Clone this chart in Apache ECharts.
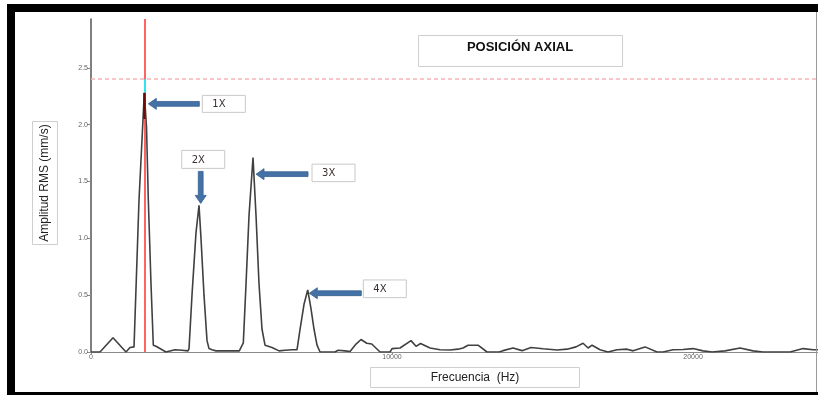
<!DOCTYPE html>
<html>
<head>
<meta charset="utf-8">
<script src="https://cdn.jsdelivr.net/npm/echarts@6/dist/echarts.min.js"></script>
<style>
  html, body { margin: 0; padding: 0; background: #fff; }
  #chart { width: 818px; height: 395px; }
</style>
</head>
<body>
<div id="chart"></div>
<script>
// Vibration spectrum, axial position: frequency (Hz) vs RMS amplitude (mm/s)
const freqHz = [
  0, 299, 731, 1163, 1296, 1429, 1478, 1595, 1678, 1771, 1844, 1904, 1993, 2070,
  2159, 2492, 2791, 3023, 3223, 3256, 3355, 3488, 3588, 3654, 3754, 3854, 3920,
  4020, 4153, 4452, 4784, 4927, 5060, 5150, 5249, 5382, 5482, 5581, 5681, 5781,
  6013, 6246, 6445, 6678, 6844, 6944, 7076, 7199, 7309, 7409, 7508, 7608, 8106,
  8206, 8439, 8605, 8804, 8970, 9160, 9326, 9601, 9934, 10000, 10266, 10631,
  10797, 10947, 11262, 11595, 11927, 12193, 12359, 12525, 12857, 13156, 13555,
  13688, 14020, 14319, 14618, 15017, 15482, 15814, 16113, 16346, 16512, 16645,
  16910, 17176, 17475, 17807, 18007, 18405, 18804, 19003, 19336, 19668, 20000,
  20332, 20631, 21063, 21561, 21993, 22326, 23223, 23654, 23987, 24150
];
const ampRms = [
  0.0, 0.0, 0.126, 0.0, 0.04, 0.045, 0.05, 1.34, 1.78, 2.28, 1.98, 1.34, 0.6, 0.06,
  0.05, 0.0, 0.02, 0.015, 0.01, 0.03, 0.5, 1.05, 1.29, 1.0, 0.5, 0.1, 0.03,
  0.02, 0.01, 0.01, 0.01, 0.01, 0.08, 0.6, 1.2, 1.71, 1.2, 0.6, 0.2, 0.06,
  0.04, 0.01, 0.015, 0.02, 0.02, 0.2, 0.42, 0.546, 0.38, 0.2, 0.06, 0.0, 0.0,
  0.015, 0.01, 0.005, 0.07, 0.11, 0.077, 0.07, 0.0, 0.0, 0.03, 0.035, 0.1,
  0.05, 0.075, 0.035, 0.02, 0.018, 0.025, 0.035, 0.06, 0.06, 0.0, 0.0,
  0.012, 0.035, 0.012, 0.04, 0.028, 0.018, 0.025, 0.045, 0.077, 0.035, 0.06,
  0.02, 0.0, 0.02, 0.025, 0.01, 0.045, 0.0, 0.0, 0.02, 0.022, 0.03,
  0.01, 0.0, 0.01, 0.035, 0.01, 0.0, 0.0, 0.03, 0.02, 0.02
];

// Running-speed harmonics and their peak amplitudes
const harmonicLabels = ['1X', '2X', '3X', '4X'];
const harmonicFreq = [1771, 3588, 5382, 7199];
const harmonicAmp = [2.28, 1.29, 1.71, 0.546];

// Alarm level (mm/s)
const alarmLevel = 2.40;

// Axis ranges and tick labels
const xMax = 24150;
const yMax = 2.93;
const xTicks = [0, 10000, 20000];
const yTicks = [0, 0.5, 1.0, 1.5, 2.0, 2.5];

const titleText = 'POSICIÓN AXIAL';
const xName = 'Frecuencia  (Hz)';
const yName = 'Amplitud RMS (mm/s)';

const chart = echarts.init(document.getElementById('chart'), null, { renderer: 'canvas' });
const FONT = '"Liberation Sans", Arial, sans-serif';

const spectrum = freqHz.map((f, i) => [f, ampRms[i]]);

chart.setOption({
  animation: false,
  backgroundColor: '#ffffff',
  grid: { left: 91, top: 19, right: 0, bottom: 43, containLabel: false },
  xAxis: {
    type: 'value', min: 0, max: xMax, interval: 10000,
    axisLine: { lineStyle: { color: '#8a8a8a', width: 1 } },
    axisTick: { show: true, length: 2, lineStyle: { color: '#888' }, customValues: xTicks },
    axisLabel: { fontSize: 7, color: '#666', margin: 2, fontFamily: FONT,
                 customValues: xTicks, formatter: v => String(v) },
    splitLine: { show: false }
  },
  yAxis: {
    type: 'value', min: 0, max: yMax, interval: 0.5,
    axisLine: { show: true, lineStyle: { color: '#555', width: 1.5 } },
    axisTick: { show: true, length: 4, lineStyle: { color: '#888' }, customValues: yTicks },
    axisLabel: { fontSize: 7, color: '#666', margin: 3, fontFamily: FONT,
                 customValues: yTicks, formatter: v => v.toFixed(1) },
    splitLine: { show: false }
  },
  series: [
    {
      type: 'line', data: spectrum, showSymbol: false, symbol: 'none',
      lineStyle: { color: '#404040', width: 1.6 }, z: 2, silent: true
    },
    {
      // reference lines: 1X marker, alarm level, and margin to alarm
      type: 'line', data: [], z: 5, silent: true,
      markLine: {
        silent: true, symbol: 'none', animation: false,
        label: { show: false },
        data: [
          { xAxis: harmonicFreq[0], lineStyle: { color: '#ff3030', width: 1.5, type: 'solid' } },
          { yAxis: alarmLevel, lineStyle: { color: '#f6b4b4', width: 1.6, type: [4, 3] } },
          [ { coord: [harmonicFreq[0], alarmLevel], lineStyle: { color: '#30e4ee', width: 2, type: 'solid' } },
            { coord: [harmonicFreq[0], harmonicAmp[0]] } ],
          [ { coord: [harmonicFreq[0], harmonicAmp[0]], lineStyle: { color: '#6e0a0a', width: 2.5, type: 'solid' } },
            { coord: [harmonicFreq[0], 2.05] } ]
        ]
      }
    }
  ]
});

// Block arrow polygon pointing at (tx, ty) along unit direction (ux, uy), tail length len
function arrowShape(tx, ty, ux, uy, len) {
  const shaft = 2.4, head = 5.5, headLen = 8;
  const px = -uy, py = ux;
  const bx = tx - ux * headLen, by = ty - uy * headLen;
  const ex = tx - ux * len, ey = ty - uy * len;
  return [
    [tx, ty],
    [bx + px * head, by + py * head],
    [bx + px * shaft, by + py * shaft],
    [ex + px * shaft, ey + py * shaft],
    [ex - px * shaft, ey - py * shaft],
    [bx - px * shaft, by - py * shaft],
    [bx - px * head, by - py * head]
  ];
}

// Label callouts placed relative to each harmonic peak
const callouts = [
  { dir: 'h', tipDx: 4, tipDy: 11, len: 51, boxDx: 3, boxDy: -8.5, w: 43, h: 17 },
  { dir: 'v', tipDx: 1.7, tipDy: -2, len: 32, boxDx: -19, boxDy: -53, w: 43, h: 18 },
  { dir: 'h', tipDx: 3, tipDy: 16.5, len: 52, boxDx: 4, boxDy: -10, w: 43, h: 17.5 },
  { dir: 'h', tipDx: 1.6, tipDy: 3.3, len: 52, boxDx: 2, boxDy: -13.3, w: 43, h: 17.7 }
];

const graphics = [];
harmonicFreq.forEach((f, i) => {
  const p = chart.convertToPixel({ gridIndex: 0 }, [f, harmonicAmp[i]]);
  const c = callouts[i];
  const tx = p[0] + c.tipDx, ty = p[1] + c.tipDy;
  let pts, bx, by;
  if (c.dir === 'h') {
    pts = arrowShape(tx, ty, -1, 0, c.len);
    bx = tx + c.len + c.boxDx; by = ty + c.boxDy;
  } else {
    pts = arrowShape(tx, ty, 0, 1, c.len);
    bx = tx + c.boxDx; by = ty + c.boxDy;
  }
  graphics.push({
    type: 'polygon', z: 20, shape: { points: pts },
    style: { fill: '#4472a6', stroke: '#35608f', lineWidth: 0.8 }
  });
  graphics.push({
    type: 'rect', z: 20, shape: { x: bx, y: by, width: c.w, height: c.h },
    style: { fill: '#ffffff', stroke: '#c9c9c9', lineWidth: 1 }
  });
  graphics.push({
    type: 'text', z: 21, x: bx + 10, y: by + c.h / 2 + 1,
    style: { text: harmonicLabels[i], font: '10px "DejaVu Sans", sans-serif', fill: '#3a3030',
             textAlign: 'left', textVerticalAlign: 'middle' }
  });
});

// Title box
graphics.push(
  { type: 'rect', z: 20, shape: { x: 418.5, y: 35.5, width: 204, height: 31 },
    style: { fill: '#fff', stroke: '#cfcfcf', lineWidth: 1 } },
  { type: 'text', z: 21, x: 520, y: 47,
    style: { text: titleText, font: 'bold 13px ' + FONT, fill: '#111',
             textAlign: 'center', textVerticalAlign: 'middle' } }
);

// Axis name boxes
graphics.push(
  { type: 'rect', z: 20, shape: { x: 370.5, y: 367.5, width: 209, height: 20 },
    style: { fill: '#fff', stroke: '#cfcfcf', lineWidth: 1 } },
  { type: 'text', z: 21, x: 475, y: 378,
    style: { text: xName, font: '12px ' + FONT, fill: '#222',
             textAlign: 'center', textVerticalAlign: 'middle' } },
  { type: 'rect', z: 20, shape: { x: 32.5, y: 121.5, width: 25, height: 123 },
    style: { fill: '#fff', stroke: '#cfcfcf', lineWidth: 1 } },
  { type: 'text', z: 21, x: 45, y: 183, rotation: Math.PI / 2,
    style: { text: yName, font: '12px ' + FONT, fill: '#222',
             textAlign: 'center', textVerticalAlign: 'middle' } }
);

// Outer frame
graphics.push(
  { type: 'rect', z: 30, shape: { x: 7, y: 4, width: 811, height: 8 }, style: { fill: '#000' } },
  { type: 'rect', z: 30, shape: { x: 7, y: 4, width: 8, height: 391 }, style: { fill: '#000' } },
  { type: 'rect', z: 30, shape: { x: 7, y: 392, width: 811, height: 3 }, style: { fill: '#000' } },
  { type: 'rect', z: 30, shape: { x: 816, y: 12, width: 1, height: 380 }, style: { fill: '#9a9a9a' } }
);

chart.setOption({ graphic: { elements: graphics } });
</script>
</body>
</html>
